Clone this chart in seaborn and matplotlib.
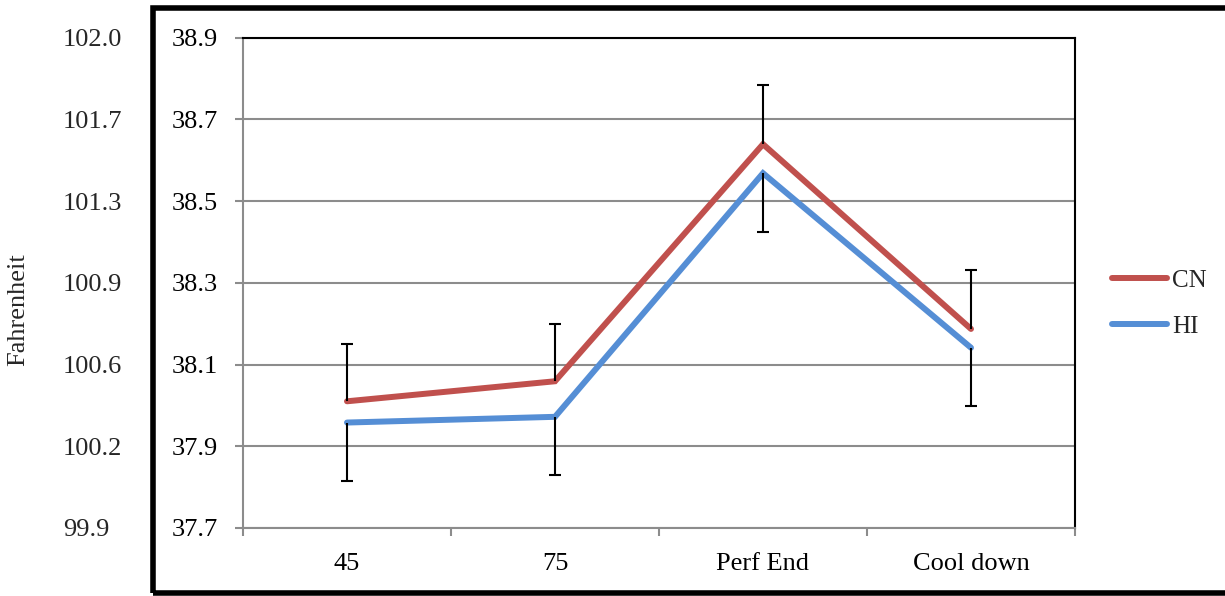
import numpy as np
import pandas as pd
import matplotlib
matplotlib.use("Agg")
import matplotlib.pyplot as plt
from matplotlib.patches import Rectangle
from matplotlib.lines import Line2D
import seaborn as sns

# ---- data ----
categories = ["45", "75", "Perf End", "Cool down"]
series_names = ["CN", "HI"]
cn_values = [38.010, 38.059, 38.639, 38.187]
hi_values = [37.958, 37.972, 38.568, 38.141]
cn_err_up = [0.141, 0.141, 0.144, 0.145]
hi_err_down = [0.142, 0.142, 0.144, 0.142]
celsius_ticks = [37.7, 37.9, 38.1, 38.3, 38.5, 38.7, 38.9]
fahrenheit_labels = ["99.9", "100.2", "100.6", "100.9", "101.3", "101.7", "102.0"]
y_label = "Fahrenheit"

colors = {"CN": "#C0504D", "HI": "#558ED5"}

sns.set_theme(style="white")
plt.rcParams["font.family"] = ["Liberation Serif", "DejaVu Serif"]

W, H = 1225, 596
fig = plt.figure(figsize=(W / 100, H / 100), dpi=100)
fig.patch.set_facecolor("white")

L, R, T, B = 243, 1075, 37.5, 528
ax = fig.add_axes([L / W, 1 - B / H, (R - L) / W, (B - T) / H])

df = pd.DataFrame({
    "Time": categories * 2,
    "Temp": cn_values + hi_values,
    "Group": [series_names[0]] * len(categories) + [series_names[1]] * len(categories),
})

sns.lineplot(data=df, x="Time", y="Temp", hue="Group", palette=colors,
             linewidth=4.3, sort=False, errorbar=None, legend=False, ax=ax,
             solid_capstyle="round", solid_joinstyle="miter", zorder=3)


def one_sided_errorbar(values, err, upward):
    zeros = np.zeros(len(err))
    yerr = [zeros, err] if upward else [err, zeros]
    _, caplines, _ = ax.errorbar(categories, values, yerr=yerr, fmt="none",
                                 ecolor="black", elinewidth=1.5, capsize=4.5,
                                 capthick=1.5, zorder=4)
    # keep only the cap at the far end of each bar
    for cap in caplines:
        if np.allclose(np.asarray(cap.get_ydata(), dtype=float), values):
            cap.set_visible(False)


one_sided_errorbar(cn_values, cn_err_up, upward=True)
one_sided_errorbar(hi_values, hi_err_down, upward=False)

ax.set_xlim(-0.5, len(categories) - 0.5)
ax.set_ylim(celsius_ticks[0], celsius_ticks[-1])

ax.set_yticks(celsius_ticks)
ax.set_yticklabels([f"{t:.1f}" for t in celsius_ticks])
ax.set_xticks(range(len(categories)))
ax.set_xticklabels(categories)
ax.set_xticks(np.arange(-0.5, len(categories)), minor=True)

grey = "#8c8c8c"
ax.yaxis.grid(True, color=grey, linewidth=1.5)
ax.xaxis.grid(False)
ax.set_axisbelow(True)

for side in ["left", "bottom"]:
    ax.spines[side].set_color(grey)
    ax.spines[side].set_linewidth(1.5)
for side in ["top", "right"]:
    ax.spines[side].set_color("black")
    ax.spines[side].set_linewidth(1.5)
    ax.spines[side].set_visible(True)

ax.tick_params(axis="y", which="major", direction="out", length=6, width=1.5,
               color=grey, pad=12, labelsize=19, labelcolor="black", left=True)
ax.tick_params(axis="x", which="major", length=0, pad=18, labelsize=19, labelcolor="black")
ax.tick_params(axis="x", which="minor", direction="out", length=6, width=1.5,
               color=grey, bottom=True)
ax.set_xlabel("")
ax.set_ylabel("")


# Fahrenheit scale outside the box
def c2f(c):
    return np.asarray(c) * 9 / 5 + 32


def f2c(f):
    return (np.asarray(f) - 32) * 5 / 9


sec = ax.secondary_yaxis((63 - L) / (R - L), functions=(c2f, f2c))
sec.set_yticks(c2f(celsius_ticks))
sec.set_yticklabels(fahrenheit_labels)
sec.tick_params(length=0, pad=0, labelsize=19)
for lab in sec.get_yticklabels():
    lab.set_horizontalalignment("left")
sec.spines["left"].set_visible(False)
sec.set_ylabel(y_label, fontsize=19)
sec.yaxis.set_label_coords((29 - L) / (R - L), (B - 310) / (B - T), transform=ax.transAxes)

# legend
handles = [Line2D([], [], color=colors[n], linewidth=4.3, solid_capstyle="round") for n in series_names]
fig.legend(handles, series_names, loc="center left",
           bbox_to_anchor=(1112 / W, 1 - 303.5 / H), frameon=False,
           fontsize=18, handlelength=2.2, handletextpad=0.2,
           labelspacing=0.95, borderpad=0, borderaxespad=0)

# thick outer frame
fig.add_artist(Rectangle((152.5 / W, 1 - 592.5 / H), (1260 - 152.5) / W, (592.5 - 8) / H,
                         transform=fig.transFigure, fill=False, linewidth=4.0,
                         edgecolor="black", clip_on=False))

fig.savefig("out.png", dpi=100, facecolor="white")
